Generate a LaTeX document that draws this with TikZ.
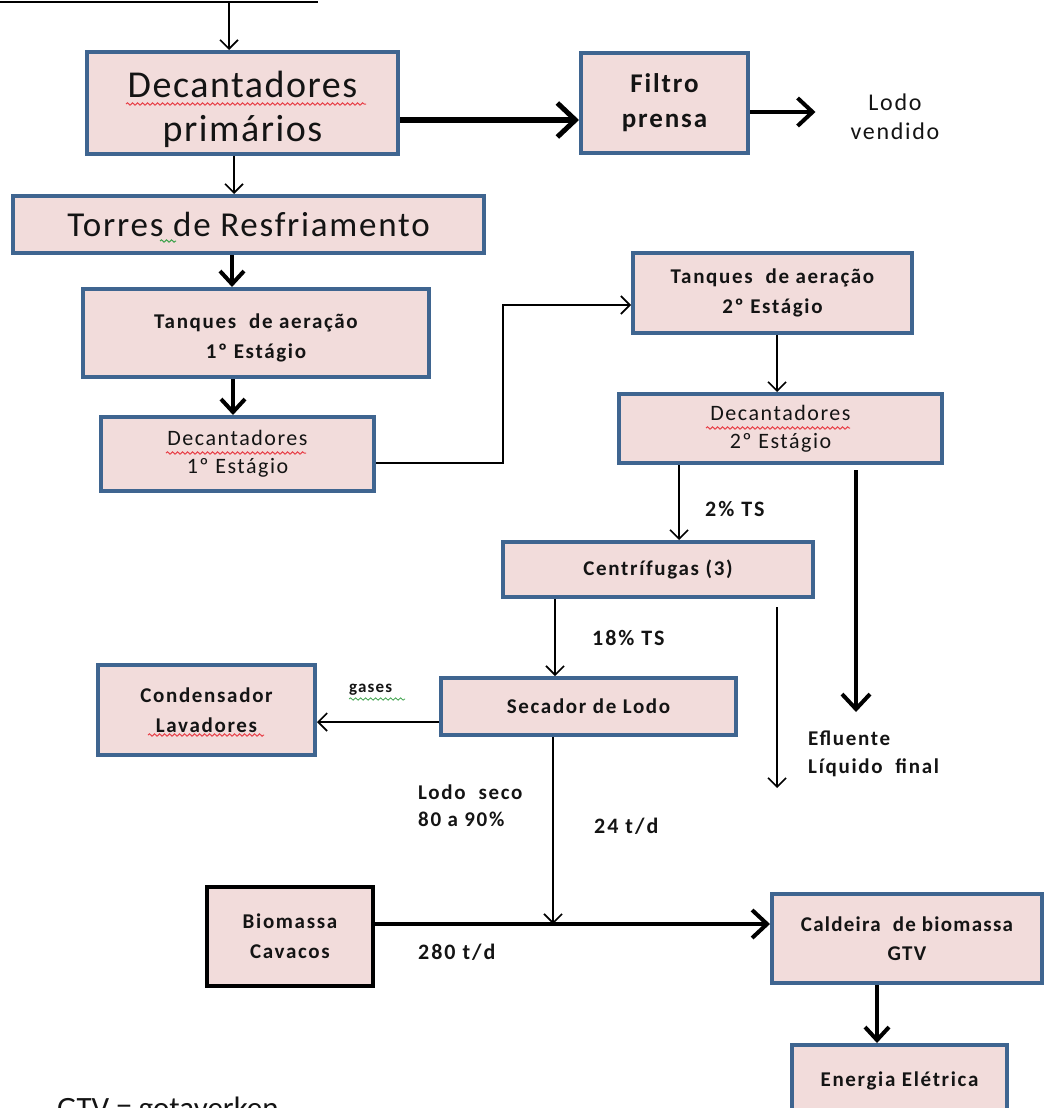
\documentclass[tikz,border=0pt]{standalone}
\usepackage{fontspec}
\setmainfont{Carlito}
\usetikzlibrary{arrows.meta,decorations.pathmorphing}
\definecolor{boxfill}{HTML}{F2DCDB}
\definecolor{boxline}{HTML}{3F6590}
\definecolor{spellred}{HTML}{E8424A}
\definecolor{spellgreen}{HTML}{3FA34D}
\newcommand\fsz[2]{\fontsize{#1}{#2}\selectfont}
\newcommand\trk[1]{\addfontfeatures{LetterSpace=#1}}

\tikzset{
  proc/.style={draw=boxline, fill=boxfill, line width=4pt, rectangle,
    align=center, inner sep=0pt, text=black!92},
  plainlbl/.style={inner sep=0pt, align=left, text=black!92},
  boldtxt/.style={font=\bfseries\fsz{21}{30}\trk{8}},
  lbltxt/.style={font=\bfseries\fsz{22}{26}\trk{9}},
  thinarr/.style={line width=1.6pt,
    -{Straight Barb[length=9pt,width=18pt,line width=1.6pt]}},
  thickarr/.style={line width=4.5pt,
    -{Straight Barb[length=13pt,width=24pt,line width=4pt]}},
  heavyarr/.style={line width=6pt,
    -{Straight Barb[length=18pt,width=34pt,line width=5pt]}},
  medarr/.style={line width=4pt,
    -{Straight Barb[length=15pt,width=28pt,line width=4pt]}},
  squiggle/.style={line width=1pt, decorate,
    decoration={snake, segment length=5pt, amplitude=1.2pt}},
}

\begin{document}
\begin{tikzpicture}[x=1pt, y=-1pt]
\useasboundingbox (0,0) rectangle (1045,1108);

% incoming feed from the stage above
\draw[line width=2pt] (0,2) -- (318,2);
\coordinate (feed) at (229,3);

% process boxes
\node[proc, minimum width=311pt, minimum height=102pt, font=\fsz{38}{44}\trk{4}]
  (decp) at (242.5,103) {\rule{0pt}{40pt}Decantadores\\primários};
\node[proc, minimum width=167pt, minimum height=100pt, font=\bfseries\fsz{27}{35}\trk{7}]
  (filtro) at (664.5,103) {Filtro\\prensa};
\node[plainlbl, align=center, font=\fsz{24}{29}\trk{7}] (lodov) at (895,117) {Lodo\\vendido};
\node[proc, minimum width=471pt, minimum height=57pt, font=\fsz{35}{38}\trk{5}]
  (torres) at (248.5,224.5) {Torres de Resfriamento};
\node[proc, boldtxt, minimum width=346pt, minimum height=88pt]
  (tq1) at (256,333) {\rule{0pt}{24pt}Tanques\ \ de aeração\\1º Estágio};
\node[proc, minimum width=273pt, minimum height=74pt, font=\fsz{22}{28}\trk{7}]
  (dec1) at (237.5,454) {Decantadores\\1º Estágio};
\node[proc, boldtxt, minimum width=279pt, minimum height=80pt]
  (tq2) at (772.5,293) {Tanques\ \ de aeração\\2º Estágio};
\node[proc, minimum width=323pt, minimum height=69pt, font=\fsz{22}{28}\trk{7}]
  (dec2) at (780.5,428.5) {Decantadores\\2º Estágio};
\node[proc, boldtxt, minimum width=310pt, minimum height=55pt]
  (cent) at (658,569.5) {Centrífugas (3)};
\node[proc, boldtxt, minimum width=295pt, minimum height=57pt]
  (sec) at (588.5,706.5) {Secador de Lodo};
\node[proc, boldtxt, minimum width=217pt, minimum height=90pt]
  (cond) at (206.5,710) {Condensador\\Lavadores};
\node[proc, boldtxt, draw=black, minimum width=166pt, minimum height=99pt]
  (bio) at (290,936.5) {Biomassa\\Cavacos};
\node[proc, font=\bfseries\fsz{21}{29}\trk{6}, minimum width=270pt, minimum height=89pt]
  (cald) at (907,938.5) {Caldeira\ \ de biomassa\\GTV};
\node[proc, boldtxt, minimum width=215pt, minimum height=72pt]
  (energ) at (899.5,1081) {Energia Elétrica};

% flow labels
\node[plainlbl, lbltxt, anchor=west] (ts2) at (705,509) {2\% TS};
\node[plainlbl, lbltxt, anchor=west] (ts18) at (592,638) {18\% TS};
\node[plainlbl, anchor=west, font=\bfseries\fsz{17}{20}\trk{7}] (gases) at (349,690) {gases};
\node[plainlbl, anchor=north west, font=\bfseries\fsz{21}{27}\trk{8}] (seco) at (418,785) {Lodo\ \ seco\\80 a 90\%};
\node[plainlbl, lbltxt, anchor=west] (t24) at (594,826) {24 t/d};
\node[plainlbl, lbltxt, anchor=west] (t280) at (418,952) {280 t/d};
\node[plainlbl, anchor=north west, font=\bfseries\fsz{21}{28}\trk{8}] (efl) at (808,731) {Efluente\\Líquido\ \ final};
\node[plainlbl, anchor=base west, font=\fsz{31}{36}] (gtv) at (57,1118) {GTV = gotaverken};

% free ends of the connectors
\coordinate (eff1) at (856,712);
\coordinate (eff2) at (777,788);
\coordinate (join) at (553,924);

% connectors
\draw[thinarr] (feed) -- (feed |- decp.north);
\draw[heavyarr] ([yshift=-17pt]decp.east) -- ([yshift=-17pt]decp.east -| filtro.west);
\draw[medarr] ([yshift=-9pt]filtro.east) -- ([yshift=-9pt,xshift=-35pt]filtro.east -| lodov.west);
\draw[thinarr] ([xshift=-8.5pt]decp.south) -- ([xshift=-8.5pt]decp.south |- torres.north);
\draw[thickarr] ([xshift=-16.5pt]torres.south) -- ([xshift=-16.5pt]torres.south |- tq1.north);
\draw[thickarr] ([xshift=-23pt]tq1.south) -- ([xshift=-23pt]tq1.south |- dec1.north);
\draw[thinarr] ([yshift=-9pt]dec1.east) -| (503,305) -- ([yshift=-12pt]tq2.west);
\draw[thinarr] ([xshift=4.5pt]tq2.south) -- ([xshift=4.5pt]tq2.south |- dec2.north);
\draw[thinarr] ([xshift=-101.5pt]dec2.south) -- ([xshift=-101.5pt]dec2.south |- cent.north);
\draw[medarr] ([xshift=75.5pt,yshift=-5pt]dec2.south) -- (eff1);
\draw[thinarr] ([xshift=-103pt]cent.south) -- ([xshift=-103pt]cent.south |- sec.north);
\draw[thinarr] ([xshift=119pt,yshift=-8pt]cent.south) -- (eff2);
\draw[thinarr] ([yshift=-15.5pt]sec.west) -- ([yshift=-15.5pt]sec.west -| cond.east);
\draw[thinarr] ([xshift=-35.5pt]sec.south) -- (join);
\draw[medarr] ([yshift=12.5pt]bio.east) -- ([yshift=12.5pt]bio.east -| cald.west);
\draw[thickarr] ([xshift=-30pt]cald.south) -- ([xshift=-30pt]cald.south |- energ.north);

% spelling marks under words
\draw[squiggle, draw=spellred] (126,104) -- (366,104);
\draw[squiggle, draw=spellred] (166,453) -- (306,453);
\draw[squiggle, draw=spellred] (706,428) -- (850,428);
\draw[squiggle, draw=spellred] (148,735) -- (264,735);
\draw[squiggle, draw=spellgreen] (160,241) -- (176,241);
\draw[squiggle, draw=spellgreen, line width=0.8pt] (349,699) -- (405,699);
\end{tikzpicture}
\end{document}
